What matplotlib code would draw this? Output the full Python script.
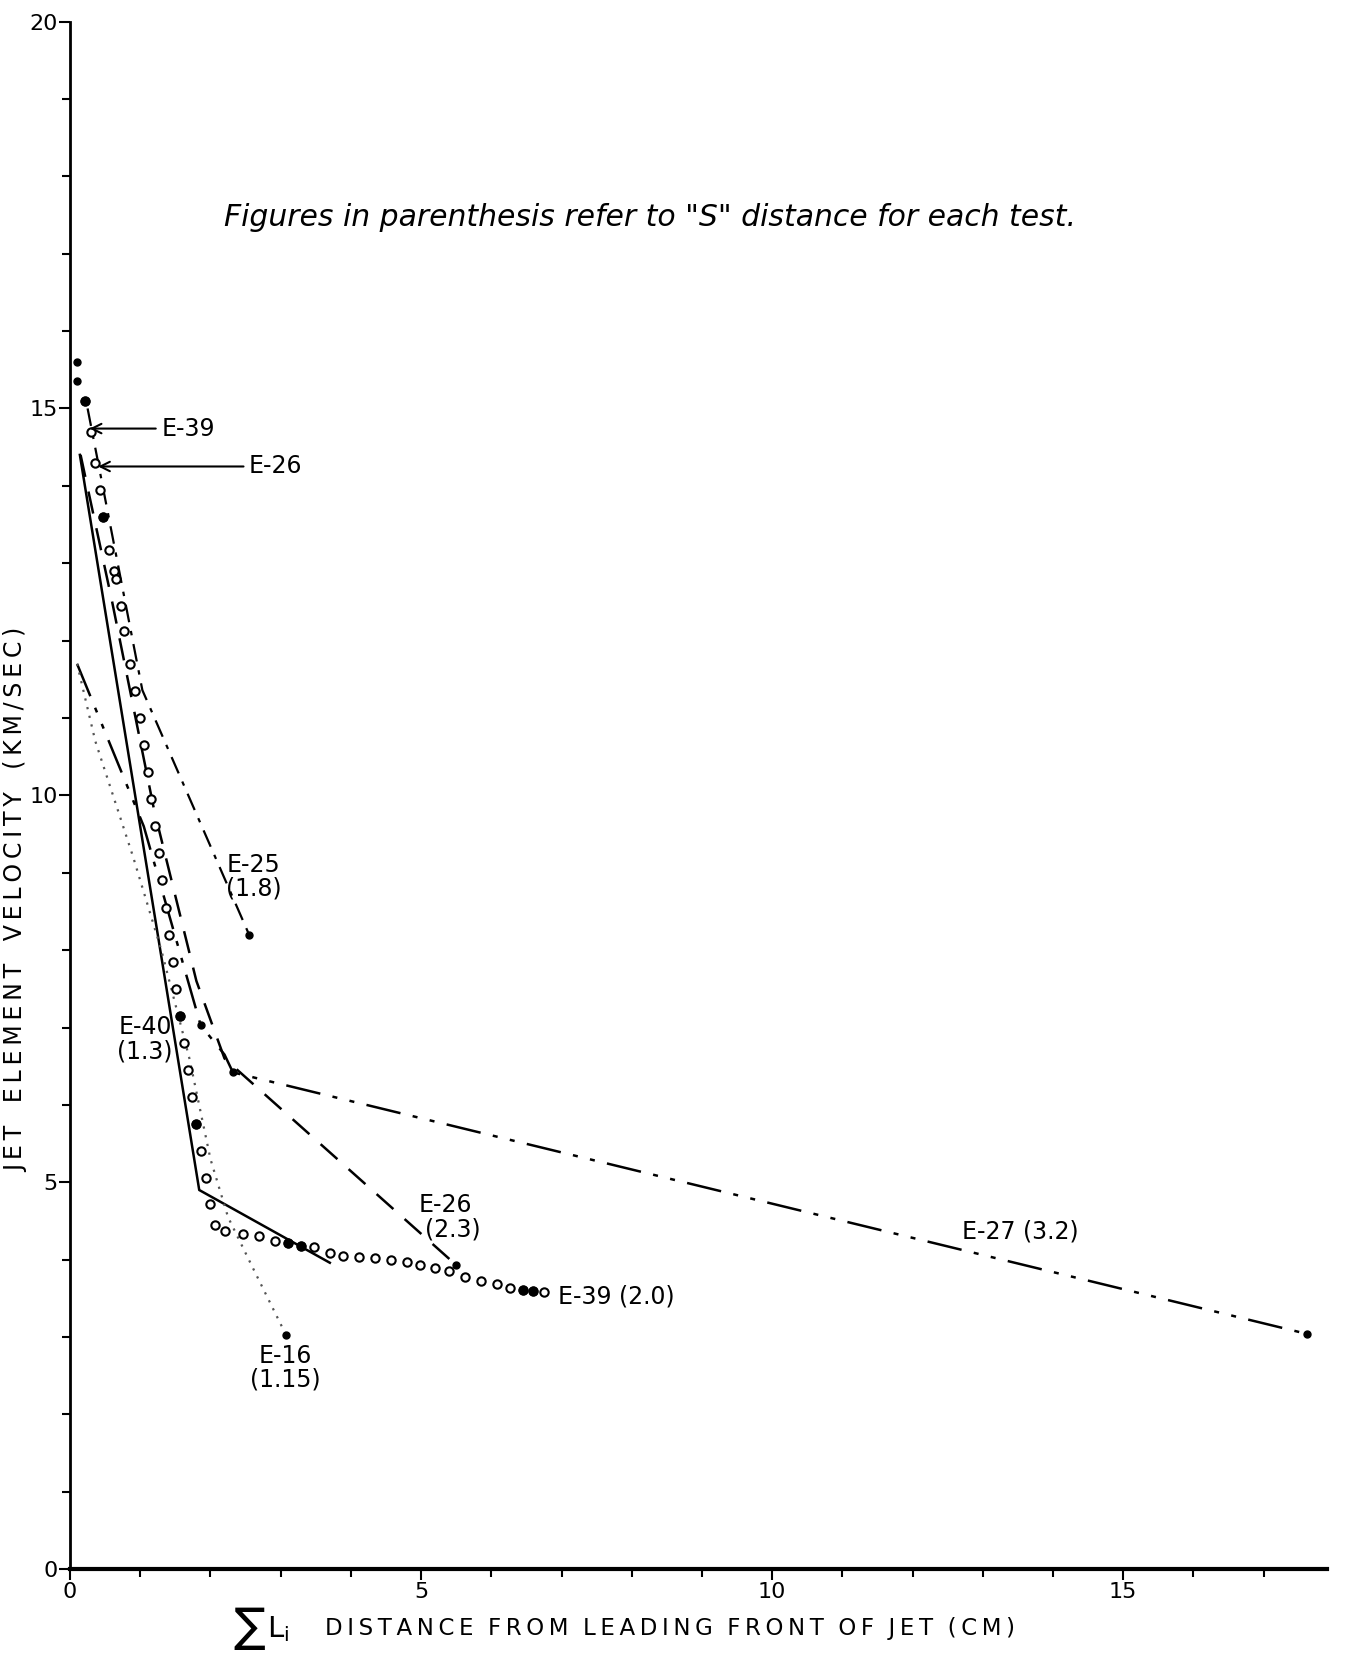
import matplotlib
matplotlib.use("Agg")
import matplotlib.pyplot as plt
from matplotlib.ticker import MultipleLocator

# E-39 (2.0): open circles
e39_x = [0.21, 0.30, 0.36, 0.42, 0.47, 0.56, 0.62, 0.66, 0.72, 0.77, 0.86, 0.93, 1.00,
         1.05, 1.11, 1.16, 1.21, 1.26, 1.31, 1.36, 1.41, 1.46, 1.51, 1.56, 1.62, 1.68,
         1.74, 1.80, 1.86, 1.93, 2.00, 2.07, 2.20, 2.47, 2.69, 2.92, 3.10, 3.29, 3.47,
         3.70, 3.89, 4.12, 4.35, 4.57, 4.80, 4.99, 5.20, 5.40, 5.62, 5.85, 6.08, 6.27,
         6.45, 6.60, 6.75]
e39_y = [15.10, 14.70, 14.30, 13.95, 13.60, 13.17, 12.90, 12.80, 12.45, 12.12, 11.70, 11.35,
         11.00, 10.65, 10.30, 9.95, 9.60, 9.25, 8.90, 8.55, 8.20, 7.85, 7.50, 7.15, 6.80,
         6.45, 6.10, 5.75, 5.40, 5.05, 4.72, 4.45, 4.37, 4.33, 4.30, 4.24, 4.22, 4.18,
         4.16, 4.08, 4.05, 4.03, 4.02, 3.99, 3.97, 3.93, 3.89, 3.85, 3.78, 3.72, 3.68,
         3.64, 3.61, 3.59, 3.58]
e39_filled_x = [0.21, 0.47, 1.56, 1.80, 3.10, 3.29, 6.45, 6.60]
e39_filled_y = [15.10, 13.60, 7.15, 5.75, 4.22, 4.18, 3.61, 3.59]

# E-40 (1.3): solid
e40_x = [0.14, 1.84, 3.70]
e40_y = [14.40, 4.90, 3.96]

# E-26 (2.3): dashed
e26_x = [0.15, 0.60, 1.20, 1.80, 2.20, 5.50]
e26_y = [14.40, 12.50, 9.80, 7.60, 6.60, 3.93]

# E-25 (1.8): dash-dot
e25_x = [0.25, 1.03, 2.55]
e25_y = [15.00, 11.36, 8.20]

# E-27 (3.2): dash-dot-dot
e27_x = [0.10, 1.05, 1.86, 2.20, 2.32, 17.62]
e27_y = [11.70, 9.60, 7.03, 6.65, 6.42, 3.04]

# E-16 (1.15): dotted
e16_x = [0.10, 0.36, 0.90, 1.30, 1.70, 2.00, 2.25, 2.60, 3.08]
e16_y = [11.70, 10.70, 9.20, 8.00, 6.60, 5.30, 4.55, 3.90, 3.02]

# end points / marked points
dots_x = [3.08, 5.50, 2.55, 17.62, 1.86, 2.32, 0.10, 0.10]
dots_y = [3.02, 3.93, 8.20, 3.04, 7.03, 6.42, 15.60, 15.35]

x_ticks = [0, 5, 10, 15]
y_ticks = [0, 5, 10, 15, 20]


def spaced(words, gap="   "):
    # letter-spaced lettering, like the stencil text of the original
    return gap.join("\u2009".join(w) for w in words)


fig = plt.figure(figsize=(13.47, 16.57), dpi=100)
ax = fig.add_axes([0.052, 0.053, 0.933, 0.934])

ax.plot(e40_x, e40_y, color="black", lw=1.8, ls="-")
ax.plot(e26_x, e26_y, color="black", lw=1.8, ls=(0, (9, 6)))
ax.plot(e25_x, e25_y, color="black", lw=1.6, ls=(0, (8, 4, 2, 4)))
ax.plot(e27_x, e27_y, color="black", lw=1.8, ls=(0, (14, 5, 2, 5, 2, 5)))
ax.plot(e16_x, e16_y, color="#555555", lw=1.6, ls=(0, (1, 3)))
ax.plot(e39_x, e39_y, ls="none", marker="o", ms=6, mfc="white", mec="black", mew=1.5)
ax.plot(e39_filled_x, e39_filled_y, ls="none", marker="o", ms=6, color="black")
ax.plot(dots_x, dots_y, ls="none", marker="o", ms=5, color="black")

ax.set_xlim(0, 17.9)
ax.set_ylim(0, 20)
ax.set_xticks(x_ticks)
ax.set_yticks(y_ticks)
ax.xaxis.set_minor_locator(MultipleLocator(1))
ax.yaxis.set_minor_locator(MultipleLocator(1))
ax.tick_params(which="major", direction="out", length=8, width=1.5, labelsize=16, pad=1)
ax.tick_params(which="minor", direction="out", length=6, width=1.5)
for s in ["top", "right"]:
    ax.spines[s].set_visible(False)
ax.spines["left"].set_linewidth(2)
ax.spines["bottom"].set_linewidth(3)

# axis titles placed by hand, as in the original lettering
fig.text(0.0122, 0.457, spaced(["JET", "ELEMENT", "VELOCITY", "(KM/SEC)"]), rotation=90,
         fontsize=17, ha="center", va="center")
fig.text(0.185, 0.017, "$\\sum$", fontsize=24, ha="center", va="center")
fig.text(0.198, 0.017, "L$_{\\mathrm{i}}$", fontsize=21, ha="left", va="center")
fig.text(0.241, 0.017, spaced(["DISTANCE", "FROM", "LEADING", "FRONT", "OF", "JET", "(CM)"], "  "),
         fontsize=16.5, ha="left", va="center")

ax.text(8.26, 17.47, "Figures in parenthesis refer to \"S\" distance for each test.",
        fontsize=21.5, style="italic", ha="center", va="center")

fs = 17
ax.annotate("E-39", xy=(0.24, 14.74), xytext=(1.3, 14.74), fontsize=fs, va="center",
            arrowprops=dict(arrowstyle="->", color="black", lw=1.5))
ax.annotate("E-26", xy=(0.36, 14.25), xytext=(2.55, 14.25), fontsize=fs, va="center",
            arrowprops=dict(arrowstyle="->", color="black", lw=1.5))
ax.text(2.62, 8.95, "E-25\n(1.8)", fontsize=fs, ha="center", va="center", linespacing=1.0)
ax.text(1.07, 6.85, "E-40\n(1.3)", fontsize=fs, ha="center", va="center", linespacing=1.0)
ax.text(5.35, 4.55, "E-26\n  (2.3)", fontsize=fs, ha="center", va="center", linespacing=1.0)
ax.text(6.95, 3.52, "E-39 (2.0)", fontsize=fs, ha="left", va="center")
ax.text(3.07, 2.6, "E-16\n(1.15)", fontsize=fs, ha="center", va="center", linespacing=1.0)
ax.text(13.53, 4.37, "E-27 (3.2)", fontsize=fs, ha="center", va="center")

fig.savefig("out.png", dpi=100)
